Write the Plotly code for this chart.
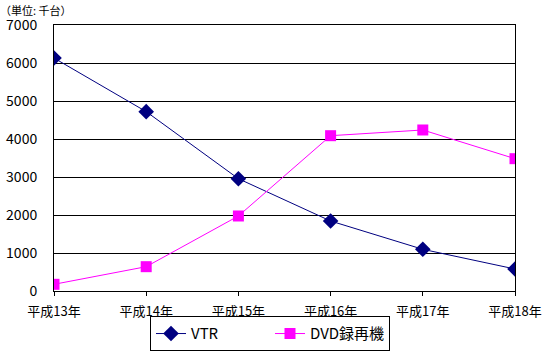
import plotly.graph_objects as go

categories = ["平成13年", "平成14年", "平成15年", "平成16年", "平成17年", "平成18年"]
vtr = [6130, 4720, 2955, 1842, 1097, 579]
dvd = [176, 640, 1974, 4087, 4237, 3482]
yticks = [0, 1000, 2000, 3000, 4000, 5000, 6000, 7000]

FONT = "Noto Sans CJK JP"
xs = list(range(len(categories)))

fig = go.Figure()
fig.add_trace(go.Scatter(
    x=xs, y=vtr, name="VTR", mode="lines+markers",
    line=dict(color="#000080", width=1),
    marker=dict(symbol="diamond", size=12, color="#000080"),
))
fig.add_trace(go.Scatter(
    x=xs, y=dvd, name="DVD録再機", mode="lines+markers",
    line=dict(color="#FF00FF", width=1),
    marker=dict(symbol="square", size=11, color="#FF00FF"),
))

fig.update_layout(
    width=544, height=352,
    margin=dict(l=54, r=29, t=25, b=61, autoexpand=False),
    paper_bgcolor="white", plot_bgcolor="white",
    font=dict(family=FONT, size=12, color="black"),
    showlegend=True,
    legend=dict(
        orientation="h", xref="container", yref="container",
        x=150/544, xanchor="left", y=0.002, yanchor="bottom",
        bordercolor="black", borderwidth=1, bgcolor="white",
        font=dict(family=FONT, size=15, color="black"),
        entrywidth=74, itemwidth=30, tracegroupgap=0,
    ),
    xaxis=dict(
        range=[0, 5], tickmode="array", tickvals=xs, ticktext=categories,
        showgrid=False, zeroline=False, showline=True, linecolor="black", linewidth=1,
        mirror=True, ticks="outside", ticklen=4, tickcolor="black",
        tickfont=dict(family=FONT, size=13), ticklabelstandoff=4, fixedrange=True,
    ),
    yaxis=dict(
        range=[0, 7000], tickmode="array", tickvals=yticks,
        ticktext=[str(v) for v in yticks],
        showgrid=True, gridcolor="black", gridwidth=1, zeroline=False,
        showline=True, linecolor="black", linewidth=1, mirror=True,
        ticks="", tickfont=dict(family=FONT, size=14), ticklabelstandoff=13,
        fixedrange=True,
    ),
    annotations=[dict(
        text="（単位: 千台）", xref="paper", yref="paper", x=0, y=1,
        xshift=-56, yshift=25, xanchor="left", yanchor="top", showarrow=False,
        font=dict(family=FONT, size=11),
    )],
)

fig.write_html("out.html")
